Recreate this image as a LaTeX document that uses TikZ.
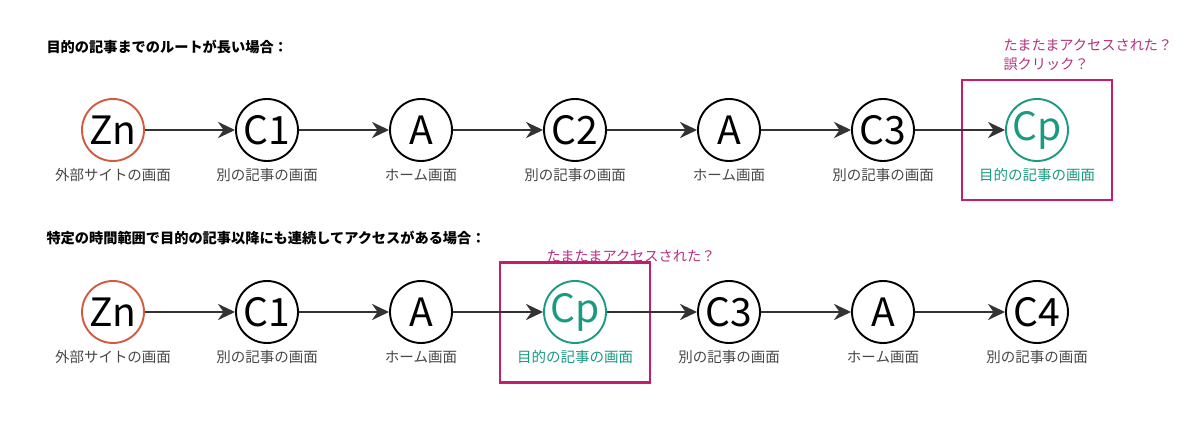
\documentclass[tikz,border=0pt]{standalone}
\usepackage{fontspec}
\setmainfont{Noto Sans CJK JP}
\usetikzlibrary{arrows.meta}
\usetikzlibrary{positioning}
\definecolor{mred}{HTML}{D25A3E}
\definecolor{mteal}{HTML}{1B9A82}
\definecolor{mpink}{HTML}{C21E6E}
\definecolor{mnote}{HTML}{B3307E}
\definecolor{mgrey}{HTML}{333333}
\tikzset{page/.style = {circle, draw, line width=1.9pt, minimum size=62pt,
                        inner sep=0pt, font=\fontsize{39}{39}\selectfont},
         caption/.style = {font=\fontsize{14.5}{16}\selectfont, text=mgrey!90},
         link/.style = {line width=2.7pt, draw=mgrey,
                        -{Stealth[length=17pt, width=16pt]}},
         hilite/.style = {draw=mpink, line width=2.4pt,
                          minimum width=150pt, minimum height=120pt},
         heading/.style = {font=\bfseries\fontsize{14.2}{16}\selectfont, anchor=west},
         note/.style = {font=\fontsize{14.2}{19}\selectfont, text=mnote, align=left}}

\begin{document}
\begin{tikzpicture}[x=1pt, y=1pt, node distance=154pt, on grid]
    \useasboundingbox (0, 0) rectangle (1200, 434);

    % first route
    \node [heading] (title1) at (43, 387) {目的の記事までのルートが長い場合：};
    \node [hilite] (box1) at (1037, 294) {};
    \node [note, anchor=north west] (note1) at (1000, 398)
          {たまたまアクセスされた？\\誤クリック？};

    \node [page, draw=mred] (ext1) at (113, 304) {Zn};
    \node [page, right=of ext1] (c1a) {C1};
    \node [page, right=of c1a] (home1) {A};
    \node [page, right=of home1] (c2a) {C2};
    \node [page, right=of c2a] (home2) {A};
    \node [page, right=of home2] (c3a) {C3};
    \node [page, draw=mteal, text=mteal, right=of c3a] (cp1) {Cp};

    \node [caption, below=45pt of ext1] (ext1t) {外部サイトの画面};
    \node [caption, below=45pt of c1a] (c1at) {別の記事の画面};
    \node [caption, below=45pt of home1] (home1t) {ホーム画面};
    \node [caption, below=45pt of c2a] (c2at) {別の記事の画面};
    \node [caption, below=45pt of home2] (home2t) {ホーム画面};
    \node [caption, below=45pt of c3a] (c3at) {別の記事の画面};
    \node [caption, text=mteal, below=45pt of cp1] (cp1t) {目的の記事の画面};

    \foreach \a/\b in {ext1/c1a, c1a/home1, home1/c2a, c2a/home2, home2/c3a, c3a/cp1}
        \draw [link] (\a) -- (\b);

    % second route
    \node [heading] (title2) at (43, 196) {特定の時間範囲で目的の記事以降にも連続してアクセスがある場合：};
    \node [hilite] (box2) at (575, 111.5) {};
    \node [note] (note2) at (631, 178) {たまたまアクセスされた？};

    \node [page, draw=mred] (ext2) at (113, 122) {Zn};
    \node [page, right=of ext2] (c1b) {C1};
    \node [page, right=of c1b] (home3) {A};
    \node [page, draw=mteal, text=mteal, right=of home3] (cp2) {Cp};
    \node [page, right=of cp2] (c3b) {C3};
    \node [page, right=of c3b] (home4) {A};
    \node [page, right=of home4] (c4b) {C4};

    \node [caption, below=45pt of ext2] (ext2t) {外部サイトの画面};
    \node [caption, below=45pt of c1b] (c1bt) {別の記事の画面};
    \node [caption, below=45pt of home3] (home3t) {ホーム画面};
    \node [caption, text=mteal, below=45pt of cp2] (cp2t) {目的の記事の画面};
    \node [caption, below=45pt of c3b] (c3bt) {別の記事の画面};
    \node [caption, below=45pt of home4] (home4t) {ホーム画面};
    \node [caption, below=45pt of c4b] (c4bt) {別の記事の画面};

    \foreach \a/\b in {ext2/c1b, c1b/home3, home3/cp2, cp2/c3b, c3b/home4, home4/c4b}
        \draw [link] (\a) -- (\b);
\end{tikzpicture}
\end{document}
